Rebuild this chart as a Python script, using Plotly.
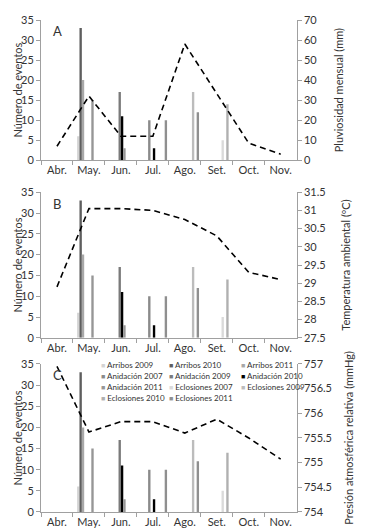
import plotly.graph_objects as go
from plotly.subplots import make_subplots

months = ["Abr.", "May.", "Jun.", "Jul.", "Ago.", "Set.", "Oct.", "Nov."]

series_names = ["Arribos 2009", "Arribos 2010", "Arribos 2011",
                "Anidación 2007", "Anidación 2009", "Anidación 2010",
                "Anidación 2011", "Eclosiones 2007", "Eclosiones 2009",
                "Eclosiones 2010", "Eclosiones 2011"]

# the original workbook reserves one empty (unnamed) series slot ahead of these
empty_series = [None, None, None, None, None, None, None, None]
arribos_2009 = [None, 6, None, None, None, None, None, None]
arribos_2010 = [None, 33, None, None, None, None, None, None]
arribos_2011 = [None, 20, None, None, None, None, None, None]
anidacion_2007 = [None, None, None, 10, None, None, None, None]
anidacion_2009 = [None, None, 17, None, None, None, None, None]
anidacion_2010 = [None, None, 11, 3, None, None, None, None]
anidacion_2011 = [None, 15, 3, None, None, None, None, None]
eclosiones_2007 = [None, None, None, None, None, 5, None, None]
eclosiones_2009 = [None, None, None, None, 17, None, None, None]
eclosiones_2010 = [None, None, None, None, None, 14, None, None]
eclosiones_2011 = [None, None, None, 10, 12, None, None, None]

series_values = [arribos_2009, arribos_2010, arribos_2011,
                 anidacion_2007, anidacion_2009, anidacion_2010,
                 anidacion_2011, eclosiones_2007, eclosiones_2009,
                 eclosiones_2010, eclosiones_2011]

series_colors = ["#d4d4d4", "#5e5e5e", "#a8a8a8",
                 "#8a8a8a", "#7a7a7a", "#000000",
                 "#969696", "#dadada", "#bcbcbc",
                 "#b0b0b0", "#8f8f8f"]

pluviosidad = [7, 32, 12, 12, 58, 33, 8.5, 3]
temperatura = [28.9, 31.05, 31.05, 31.0, 30.75, 30.3, 29.3, 29.1]
presion = [756.95, 755.62, 755.83, 755.83, 755.6, 755.88, 755.5, 755.07]

panel_labels = ["A", "B", "C"]
left_title = "Número de eventos"
right_titles = ["Pluviosidad mensual (mm)", "Temperatura ambiental (ºC)",
                "Presión atmosférica relativa (mmHg)"]
right_ranges = [[0, 70], [27.5, 31.5], [754, 757]]
right_dticks = [10, 0.5, 0.5]
lines = [pluviosidad, temperatura, presion]

FONT = "Lato"
TXT = "#333333"
AX = "#a0a0a0"

fig = make_subplots(rows=3, cols=1, specs=[[{"secondary_y": True}]] * 3)

for r in range(3):
    fig.add_trace(go.Bar(x=months, y=empty_series, name="", showlegend=False,
                         hoverinfo="skip"),
                  row=r + 1, col=1, secondary_y=False)
    for name, vals, col in zip(series_names, series_values, series_colors):
        fig.add_trace(go.Bar(x=months, y=vals, name=name, marker_color=col,
                             marker_line_width=0, showlegend=False),
                      row=r + 1, col=1, secondary_y=False)
    fig.add_trace(go.Scatter(x=months, y=lines[r], mode="lines",
                             line=dict(color="black", width=1.6, dash="6px,4px"),
                             showlegend=False),
                  row=r + 1, col=1, secondary_y=True)

domains = [[0.715, 1.0], [0.354, 0.650], [0.0, 0.301]]
left_title_x = -0.085
right_title_x = [1.092, 1.121, 1.132]

layout = dict(
    width=366, height=528,
    margin=dict(l=33, r=61, t=12, b=24, autoexpand=False),
    paper_bgcolor="white", plot_bgcolor="white",
    barmode="group", bargap=0.111, bargroupgap=0,
    font=dict(family=FONT, size=11, color=TXT),
    showlegend=False,
)

annotations = []
shapes = []


def title_box(text, xc, dom):
    # invisible paper-referenced box whose label acts as a rotated axis title
    return dict(type="rect", xref="paper", yref="paper",
                x0=xc - 0.02, x1=xc + 0.02, y0=dom[0], y1=dom[1],
                line=dict(width=0), fillcolor="rgba(0,0,0,0)", layer="above",
                label=dict(text=text, textangle=-90, textposition="middle center",
                           font=dict(family=FONT, size=11, color=TXT)))


for r in range(3):
    xk = "xaxis" if r == 0 else f"xaxis{r + 1}"
    ylk = "yaxis" if r == 0 else f"yaxis{2 * r + 1}"
    yrk = f"yaxis{2 * r + 2}"
    layout[xk] = dict(type="category", range=[-0.5, 7.5], automargin=False,
                      showline=True, linecolor=AX, linewidth=1,
                      ticks="outside", tickson="boundaries", ticklen=4,
                      tickcolor=AX, tickangle=0, tickfont=dict(size=11, color=TXT),
                      showgrid=False, zeroline=False, fixedrange=True)
    layout[ylk] = dict(domain=domains[r], range=[0, 35], dtick=5, automargin=False,
                       showline=True, linecolor=AX, ticks="outside", ticklen=4,
                       tickcolor=AX, showgrid=False, zeroline=False,
                       tickfont=dict(size=11, color=TXT))
    layout[yrk] = dict(domain=domains[r], range=right_ranges[r], dtick=right_dticks[r],
                       automargin=False,
                       showline=True, linecolor=AX, ticks="outside", ticklen=4,
                       tickcolor=AX, showgrid=False, zeroline=False,
                       tickfont=dict(size=11, color=TXT))
    shapes.append(title_box(left_title, left_title_x, domains[r]))
    shapes.append(title_box(right_titles[r], right_title_x[r], domains[r]))
    annotations.append(dict(text=panel_labels[r], x=0.035, y=domains[r][1] - 0.003,
                            xref="paper", yref="paper", xanchor="left", yanchor="top",
                            showarrow=False, font=dict(size=13, color=TXT)))

# compact legend inside panel C, three columns (row-major order)
col_x = [0.215, 0.465, 0.728]
row_y0 = 0.2994
row_dy = 0.0226
for k, (name, col) in enumerate(zip(series_names, series_colors)):
    rr, cc = divmod(k, 3)
    annotations.append(dict(
        text=f"<span style='color:{col};font-size:7px'>■</span> {name}",
        x=col_x[cc], y=row_y0 - rr * row_dy, xref="paper", yref="paper",
        xanchor="left", yanchor="middle", showarrow=False,
        font=dict(size=8, color=TXT)))

layout["annotations"] = annotations
layout["shapes"] = shapes
fig.update_layout(**layout)

fig.write_html("out.html")
